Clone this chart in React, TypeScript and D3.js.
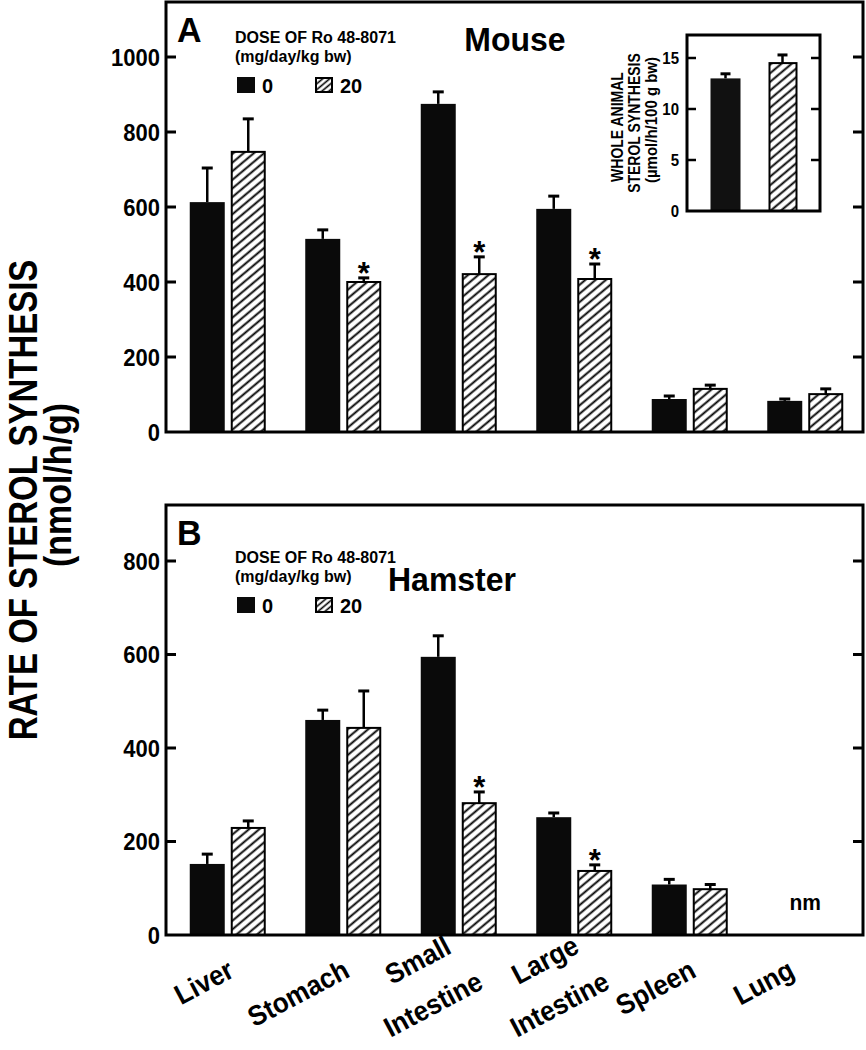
import React from "react";
import * as d3 from "d3";

const organs = ["Liver", "Stomach", "Small Intestine", "Large Intestine", "Spleen", "Lung"];
const organLabelLines = [["Liver"], ["Stomach"], ["Small", "Intestine"], ["Large", "Intestine"], ["Spleen"], ["Lung"]];

const mouseDose0 = [613, 515, 875, 595, 88, 83];
const mouseDose0Err = [91, 24, 32, 34, 8, 5];
const mouseDose20 = [747, 400, 421, 408, 115, 101];
const mouseDose20Err = [88, 11, 46, 40, 10, 14];
const mouseSig = [false, true, true, true, false, false];

const hamsterDose0 = [152, 460, 595, 252, 108, null];
const hamsterDose0Err = [21, 21, 45, 9, 11, null];
const hamsterDose20 = [229, 443, 282, 137, 98, null];
const hamsterDose20Err = [15, 79, 24, 13, 10, null];
const hamsterSig = [false, false, true, true, false, false];

const insetGroups = ["0", "20"];
const insetValues = [13.0, 14.5];
const insetErr = [0.45, 0.8];

const mouseTicks = [0, 200, 400, 600, 800, 1000];
const hamsterTicks = [0, 200, 400, 600, 800];
const insetTicks = [0, 5, 10, 15];

// layout nudges for the hand-placed category labels (pixels, relative to band centre)
const labelShift = [8, 8, -67, -56, 8, -9];

const FONT = "'Liberation Sans', Arial, Helvetica, sans-serif";

function T({ x, y, size, children, anchor = "start", rot = 0, sy = 1, weight = "bold" }: any) {
  return (
    <text
      transform={`translate(${x},${y}) rotate(${rot}) scale(1,${sy})`}
      fontSize={size}
      fontFamily={FONT}
      fontWeight={weight}
      textAnchor={anchor}
      fill="#000"
    >
      {children}
    </text>
  );
}

const x = d3.scaleBand<string>().domain(organs).range([170, 863]);

function Panel({ y, top, bottom, ticks, v0, e0, v20, e20, sig, letter, title, titleX, titleY, legendY, nmLabel }: any) {
  const left = 166;
  const right = 863;
  return (
    <g>
      {ticks.map((t: number) => (
        <g key={t}>
          {t > 0 && <line x1={left} x2={left + 10} y1={y(t)} y2={y(t)} stroke="#000" strokeWidth={3} />}
          {t > 0 && <line x1={right - 10} x2={right} y1={y(t)} y2={y(t)} stroke="#000" strokeWidth={3} />}
          <T x={160} y={y(t) + 8.5} size={22} anchor="end" sy={1.12}>{t}</T>
        </g>
      ))}
      {organs.map((o, i) => {
        const c = (x(o) as number) + x.bandwidth() / 2;
        const els: any[] = [];
        if (v0[i] != null) {
          const cx0 = c - 20.5;
          els.push(<line key="e0" x1={cx0} x2={cx0} y1={y(v0[i])} y2={y(v0[i] + e0[i])} stroke="#000" strokeWidth={2.5} />);
          els.push(<line key="c0" x1={cx0 - 5.5} x2={cx0 + 5.5} y1={y(v0[i] + e0[i])} y2={y(v0[i] + e0[i])} stroke="#000" strokeWidth={3} />);
          els.push(<rect key="b0" x={c - 38} width={35} y={y(v0[i])} height={y(0) - y(v0[i])} fill="#0a0a0a" />);
        }
        if (v20[i] != null) {
          const cx1 = c + 20.5;
          els.push(<line key="e1" x1={cx1} x2={cx1} y1={y(v20[i])} y2={y(v20[i] + e20[i])} stroke="#000" strokeWidth={2.5} />);
          els.push(<line key="c1" x1={cx1 - 5.5} x2={cx1 + 5.5} y1={y(v20[i] + e20[i])} y2={y(v20[i] + e20[i])} stroke="#000" strokeWidth={3} />);
          els.push(<rect key="b1" x={c + 4} width={33} y={y(v20[i])} height={y(0) - y(v20[i])} fill="url(#hatch)" stroke="#000" strokeWidth={2} />);
          if (sig[i]) {
            els.push(<T key="s" x={cx1} y={y(v20[i] + e20[i]) + 6} size={31} anchor="middle">*</T>);
          }
        } else if (nmLabel) {
          els.push(<T key="nm" x={c} y={910} size={21} anchor="middle" sy={1.05}>nm</T>);
        }
        return <g key={o}>{els}</g>;
      })}
      <rect x={left} y={top} width={right - left} height={bottom - top} fill="none" stroke="#000" strokeWidth={3} />
      <T x={177} y={top + 40} size={34} sy={1.05}>{letter}</T>
      <T x={titleX} y={titleY} size={32} anchor="middle" sy={1.05}>{title}</T>
      <T x={235} y={legendY} size={16}>DOSE OF Ro 48-8071</T>
      <T x={235} y={legendY + 19} size={16}>(mg/day/kg bw)</T>
      <rect x={237} y={legendY + 34} width={18} height={16} fill="#0a0a0a" />
      <T x={262} y={legendY + 50} size={20} sy={1.05}>0</T>
      <rect x={316} y={legendY + 35} width={16} height={14} fill="url(#hatchS)" stroke="#000" strokeWidth={2} />
      <T x={340} y={legendY + 50} size={20} sy={1.05}>20</T>
    </g>
  );
}

function Inset() {
  const left = 687, right = 820, top = 35, bottom = 211;
  const yI = d3.scaleLinear().domain([0, 15]).range([bottom, 58]);
  const xI = d3.scaleBand<string>().domain(insetGroups).range([697, 811]);
  return (
    <g>
      {insetTicks.map((t) => (
        <g key={t}>
          {t > 0 && <line x1={left} x2={left + 9} y1={yI(t)} y2={yI(t)} stroke="#000" strokeWidth={2.5} />}
          {t > 0 && <line x1={right - 9} x2={right} y1={yI(t)} y2={yI(t)} stroke="#000" strokeWidth={2.5} />}
          <T x={679} y={yI(t) + 5.5} size={15} anchor="end" sy={1.05}>{t}</T>
        </g>
      ))}
      {insetGroups.map((g, i) => {
        const c = (xI(g) as number) + xI.bandwidth() / 2;
        const v = insetValues[i];
        const e = insetErr[i];
        return (
          <g key={g}>
            <line x1={c} x2={c} y1={yI(v)} y2={yI(v + e)} stroke="#000" strokeWidth={2.5} />
            <line x1={c - 5} x2={c + 5} y1={yI(v + e)} y2={yI(v + e)} stroke="#000" strokeWidth={3} />
            {i === 0 ? (
              <rect x={c - 15} width={30} y={yI(v)} height={bottom - yI(v)} fill="#111" />
            ) : (
              <rect x={c - 13} width={27} y={yI(v)} height={bottom - yI(v)} fill="url(#hatch)" stroke="#000" strokeWidth={2} />
            )}
          </g>
        );
      })}
      <rect x={left} y={top} width={right - left} height={bottom - top} fill="none" stroke="#000" strokeWidth={3} />
      <T x={623} y={127} size={14} anchor="middle" rot={-90} sy={1.2}>WHOLE ANIMAL</T>
      <T x={640} y={123} size={14} anchor="middle" rot={-90} sy={1.2}>STEROL SYNTHESIS</T>
      <T x={657} y={120} size={15} anchor="middle" rot={-90} sy={1.05}>(µmol/h/100 g bw)</T>
    </g>
  );
}

export default function App() {
  const yA = d3.scaleLinear().domain([0, 1000]).range([432, 57]);
  const yB = d3.scaleLinear().domain([0, 800]).range([935, 561]);
  return (
    <svg width={866} height={1050} style={{ position: "absolute", left: 0, top: 0, background: "#fff" }}>
      <defs>
        <pattern id="hatch" patternUnits="userSpaceOnUse" width={8} height={6.6} patternTransform="rotate(-40)">
          <rect width={8} height={6.6} fill="#fff" />
          <line x1={0} x2={8} y1={3.3} y2={3.3} stroke="#000" strokeWidth={1.9} />
        </pattern>
        <pattern id="hatchS" patternUnits="userSpaceOnUse" width={8} height={4.5} patternTransform="rotate(-40)">
          <rect width={8} height={4.5} fill="#fff" />
          <line x1={0} x2={8} y1={2.25} y2={2.25} stroke="#000" strokeWidth={1.6} />
        </pattern>
      </defs>
      <rect width={866} height={1050} fill="#fff" />
      <Panel y={yA} top={2} bottom={432} ticks={mouseTicks} v0={mouseDose0} e0={mouseDose0Err} v20={mouseDose20} e20={mouseDose20Err}
        sig={mouseSig} letter="A" title="Mouse" titleX={515} titleY={51} legendY={43} nmLabel={false} />
      <Panel y={yB} top={505} bottom={935} ticks={hamsterTicks} v0={hamsterDose0} e0={hamsterDose0Err} v20={hamsterDose20} e20={hamsterDose20Err}
        sig={hamsterSig} letter="B" title="Hamster" titleX={452} titleY={591} legendY={563} nmLabel={true} />
      <Inset />
      <T x={37} y={500} size={33} anchor="middle" rot={-90} sy={1.26}>RATE OF STEROL SYNTHESIS</T>
      <T x={71} y={485} size={34} anchor="middle" rot={-90} sy={1.12}>(nmol/h/g)</T>
      {organs.map((o, i) => {
        const c = (x(o) as number) + x.bandwidth() / 2;
        const lines = organLabelLines[i];
        if (lines.length === 1) {
          return (
            <g key={o} transform={`translate(${c + labelShift[i]},${976}) rotate(-28)`}>
              <text textAnchor="end" fontSize={26} fontFamily={FONT} fontWeight="bold" transform="scale(1,1.08)">{lines[0]}</text>
            </g>
          );
        }
        return (
          <g key={o} transform={`translate(${c + labelShift[i]},${985}) rotate(-28)`}>
            <text textAnchor="start" fontSize={26} fontFamily={FONT} fontWeight="bold" transform="scale(1,1.08)">{lines[0]}</text>
            <text textAnchor="start" fontSize={26} fontFamily={FONT} fontWeight="bold" transform="translate(-26,46) scale(1,1.08)">{lines[1]}</text>
          </g>
        );
      })}
    </svg>
  );
}
